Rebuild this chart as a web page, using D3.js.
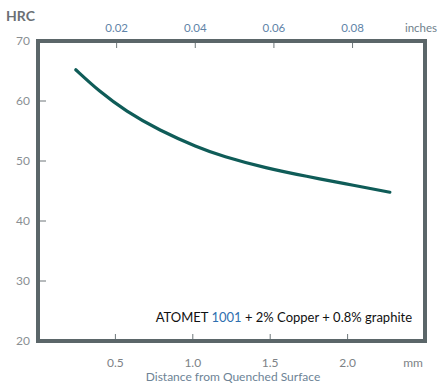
<!DOCTYPE html>
<html>
<head>
<meta charset="utf-8">
<script src="https://cdn.jsdelivr.net/npm/d3@7"></script>
<style>
html,body{margin:0;padding:0;background:#fff;}
svg{display:block;font-family:Lato,"Open Sans",sans-serif;}
</style>
</head>
<body>
<svg id="c" width="438" height="385"></svg>
<script>
// Data
const distanceMm = [0.244, 0.395, 0.568, 0.784, 1.03, 1.19, 1.475, 1.742, 1.969, 2.273];
const hardnessHRC = [65.2, 61.6, 58.3, 55.1, 52.3, 50.8, 48.8, 47.4, 46.3, 44.8];
const yTicks = [20, 30, 40, 50, 60, 70];
const xTicksMm = [0.5, 1.0, 1.5, 2.0];
const xTicksIn = [0.02, 0.04, 0.06, 0.08];

const svg = d3.select("#c");
const L = 38, R = 425, T = 41, B = 341;
const x = d3.scaleLinear().domain([0, 2.5]).range([L, R]);
const xin = d3.scaleLinear().domain([0, 2.5 / 25.4]).range([L, R]);
const y = d3.scaleLinear().domain([20, 70]).range([B, T]);

const frameCol = "#5b6669";
const tickCol = "#6e777a";

// ticks (inward)
const tk = svg.append("g");
yTicks.filter(d => d > 20 && d < 70).forEach(d => {
  tk.append("line").attr("x1", L).attr("x2", L + 8).attr("y1", y(d)).attr("y2", y(d))
    .attr("stroke", tickCol).attr("stroke-width", 1);
});
xTicksMm.forEach(d => {
  tk.append("line").attr("x1", x(d)).attr("x2", x(d)).attr("y1", B).attr("y2", B - 7)
    .attr("stroke", tickCol).attr("stroke-width", 1);
});
xTicksIn.forEach(d => {
  tk.append("line").attr("x1", xin(d)).attr("x2", xin(d)).attr("y1", T).attr("y2", T + 7)
    .attr("stroke", tickCol).attr("stroke-width", 1);
});

// frame
svg.append("rect").attr("x", L).attr("y", T).attr("width", R - L).attr("height", B - T)
  .attr("fill", "none").attr("stroke", frameCol).attr("stroke-width", 4);

// y labels
svg.append("g").selectAll("text").data(yTicks).join("text")
  .attr("x", 30).attr("y", d => y(d) + 4).attr("text-anchor", "end")
  .attr("font-size", 12).attr("fill", "#8a8f93").text(d => d);

// bottom labels
svg.append("g").selectAll("text").data(xTicksMm).join("text")
  .attr("x", d => x(d)).attr("y", 367).attr("text-anchor", "middle")
  .attr("font-size", 12).attr("fill", "#7d8286").text(d => d.toFixed(1));
svg.append("text").attr("x", 413).attr("y", 367).attr("text-anchor", "middle")
  .attr("font-size", 12).attr("fill", "#7d8286").text("mm");
svg.append("text").attr("x", 233).attr("y", 381).attr("text-anchor", "middle")
  .attr("font-size", 12).attr("fill", "#6d8396").text("Distance from Quenched Surface");

// top labels
svg.append("g").selectAll("text").data(xTicksIn).join("text")
  .attr("x", d => xin(d)).attr("y", 32).attr("text-anchor", "middle")
  .attr("font-size", 11.5).attr("fill", "#5f84a8").text(d => d.toFixed(2));
svg.append("text").attr("x", 421).attr("y", 32).attr("text-anchor", "middle")
  .attr("font-size", 11.5).attr("fill", "#6f7f8c").text("inches");

// HRC
svg.append("text").attr("x", 6).attr("y", 21).attr("font-size", 14).attr("font-weight", "bold")
  .attr("fill", "#6b7075").text("HRC");

// curve
const pts = distanceMm.map((d, i) => [d, hardnessHRC[i]]);
svg.append("path").datum(pts)
  .attr("d", d3.line().x(d => x(d[0])).y(d => y(d[1])).curve(d3.curveBasis))
  .attr("fill", "none").attr("stroke", "#0f5c58").attr("stroke-width", 3.2)
  .attr("stroke-linecap", "round");

// annotation
const ann = svg.append("text").attr("x", 412).attr("y", 322).attr("text-anchor", "end")
  .attr("font-size", 13).attr("fill", "#111");
ann.append("tspan").text("ATOMET ");
ann.append("tspan").attr("fill", "#2f6fb0").text("1001");
ann.append("tspan").text(" + 2% Copper + 0.8% graphite");
</script>
</body>
</html>
